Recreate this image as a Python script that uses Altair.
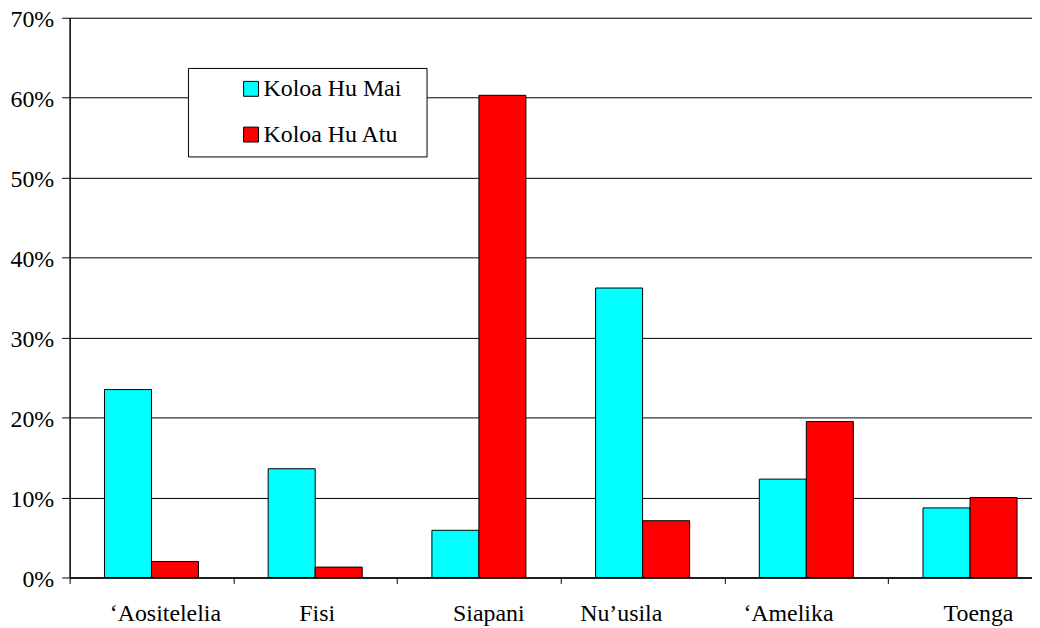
import altair as alt
import pandas as pd

categories = ["‘Aositelelia", "Fisi", "Siapani", "Nu’usila", "‘Amelika", "Toenga"]
series_names = ["Koloa Hu Mai", "Koloa Hu Atu"]
mai = [0.235, 0.136, 0.059, 0.362, 0.123, 0.087]
atu = [0.020, 0.013, 0.603, 0.071, 0.195, 0.100]
colors = ["#00FFFF", "#FF0000"]
label_offsets = [13.5, 1.5, 9.5, -22, -18.5, 8]

rows = []
for c, a, b in zip(categories, mai, atu):
    rows.append({"country": c, "series": series_names[0], "value": a})
    rows.append({"country": c, "series": series_names[1], "value": b})
df = pd.DataFrame(rows)

FONT = "'Liberation Serif', 'Times New Roman', Times, serif"
FS = 24
color_scale = alt.Scale(domain=series_names, range=colors)

cond = [{"test": f"datum.value === '{c}'", "value": o} for c, o in zip(categories, label_offsets)]

bars = alt.Chart(df).mark_bar(stroke="black", strokeWidth=1).encode(
    x=alt.X("country:N", sort=categories, title=None,
            scale=alt.Scale(range=[0, 988], paddingInner=0, paddingOuter=0),
            axis=alt.Axis(labelAngle=0, tickBand="extent", grid=False,
                          domainColor="black", domainWidth=1.5,
                          tickColor="black", tickSize=6, tickWidth=1,
                          labelFont=FONT, labelFontSize=FS, labelColor="black",
                          labelPadding=18,
                          labelOffset={"condition": cond, "value": 0})),
    xOffset=alt.XOffset("series:N", sort=series_names,
                        scale=alt.Scale(paddingInner=0, paddingOuter=0.741)),
    y=alt.Y("value:Q", title=None,
            scale=alt.Scale(domain=[0, 0.7], nice=False),
            axis=alt.Axis(format=".0%", values=[0, 0.1, 0.2, 0.3, 0.4, 0.5, 0.6, 0.7],
                          grid=True, gridColor="black", gridWidth=1,
                          domainColor="black", domainWidth=1.5,
                          tickColor="black", tickSize=8, tickWidth=1,
                          labelFont=FONT, labelFontSize=FS, labelColor="black",
                          labelPadding=8, labelOffset=2)),
    color=alt.Color("series:N", scale=color_scale, legend=None),
)

# legend drawn as marks
leg_df = pd.DataFrame({"series": series_names})
leg_box = alt.Chart(pd.DataFrame({"k": [0]})).mark_rect(
    fill="white", stroke="black", strokeWidth=1
).encode(x=alt.value(119.5), x2=alt.value(359.5), y=alt.value(51), y2=alt.value(140))

leg_layers = [leg_box]
row_y = [71.5, 117.5]
for name, yv in zip(series_names, row_y):
    sym = alt.Chart(leg_df).transform_filter(alt.datum.series == name).mark_square(
        size=225, stroke="black", strokeWidth=1, opacity=1
    ).encode(x=alt.value(182.5), y=alt.value(yv),
             color=alt.Color("series:N", scale=color_scale, legend=None))
    txt = alt.Chart(leg_df).transform_filter(alt.datum.series == name).mark_text(
        align="left", baseline="middle", font=FONT, fontSize=FS, color="black"
    ).encode(x=alt.value(195), y=alt.value(yv), text="series:N")
    leg_layers += [sym, txt]

chart = alt.layer(bars, *leg_layers).properties(
    width=968, height=563,
    autosize=alt.AutoSizeParams(type="none"),
    padding={"left": 62, "top": 8, "right": 0, "bottom": 48},
).configure_view(stroke=None).configure(background="white")

chart.save("out.html", embed_options={"renderer": "svg", "actions": False})
